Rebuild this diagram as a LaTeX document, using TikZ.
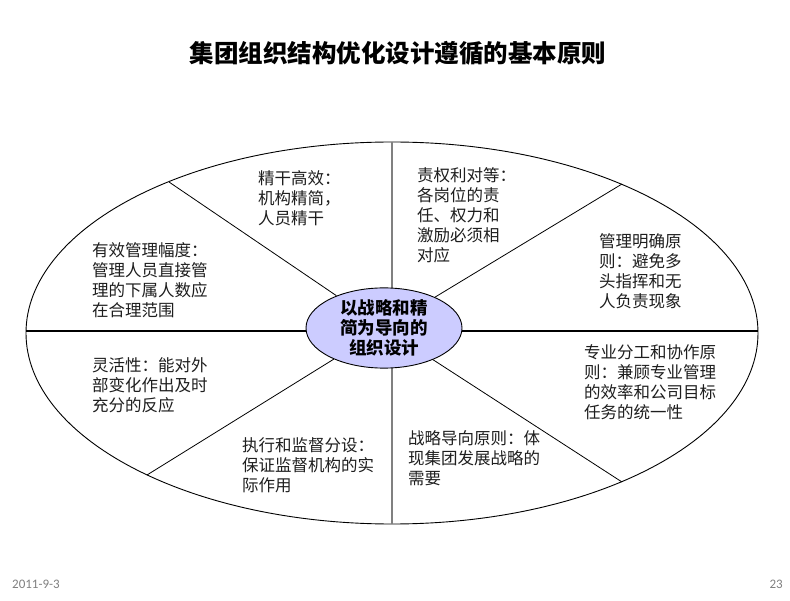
\documentclass[tikz,border=0pt]{standalone}
\usepackage{fontspec}
\setmainfont{Noto Sans CJK SC}
\newfontfamily\footfont{Carlito}
\usetikzlibrary{shapes.geometric}
\definecolor{txt}{HTML}{1E1E1E}
\definecolor{corefill}{HTML}{CCCCFF}
\definecolor{vgray}{HTML}{808080}
\definecolor{foot}{HTML}{808080}
\begin{document}
\begin{tikzpicture}[x=1pt,y=-1pt,
  body/.style={anchor=north west, inner sep=0pt, align=left, text=txt,
    font=\fontsize{16.5}{20}\selectfont},
  core/.style={ellipse, draw=black, line width=0.9pt, fill=corefill,
    minimum width=156pt, minimum height=76pt, inner sep=0pt, align=center,
    font=\fontsize{17.5}{20}\selectfont\bfseries},
  spoke/.style={draw=black, line width=0.8pt},
  hline/.style={draw=black, line width=1.3pt},
  vline/.style={draw=vgray, line width=1.8pt},
  outline/.style={draw=black, line width=0.9pt, fill=white},
  footer/.style={inner sep=0pt, text=foot, font=\footfont\fontsize{13}{15}\selectfont}]
\useasboundingbox (0,0) rectangle (790,601);
\fill[white] (0,0) rectangle (790,601);
% title
\node[inner sep=0pt, font=\fontsize{24.5}{28}\selectfont\bfseries] (title) at (398,53) {集团组织结构优化设计遵循的基本原则};
% outer ellipse
\draw[outline] (392,333) ellipse [x radius=366pt, y radius=191pt];
\coordinate (otop) at (392,142);
\coordinate (obot) at (392,524);
\coordinate (olft) at (26,331);
\coordinate (orgt) at (758,331);
\coordinate (oul) at (169,182);
\coordinate (our) at (622,184);
\coordinate (oll) at (147,475);
\coordinate (olr) at (622,482);
\draw[vline] (otop) -- (obot);
\draw[hline] (olft) -- (orgt);
\node[core] (core) at (384,328) {以战略和精\\简为导向的\\组织设计};
\draw[spoke] (core) -- (oul);
\draw[spoke] (core) -- (our);
\draw[spoke] (core) -- (oll);
\draw[spoke] (core) -- (olr);
% sector texts
\node[body] (t1) at (258,170) {精干高效：\\机构精简，\\人员精干};
\node[body] (t2) at (92,242) {有效管理幅度：\\管理人员直接管\\理的下属人数应\\在合理范围};
\node[body] (t3) at (417,167) {责权利对等：\\各岗位的责\\任、权力和\\激励必须相\\对应};
\node[body] (t4) at (599,233) {管理明确原\\则：避免多\\头指挥和无\\人负责现象};
\node[body] (t5) at (92,357) {灵活性：能对外\\部变化作出及时\\充分的反应};
\node[body] (t6) at (242,437) {执行和监督分设：\\保证监督机构的实\\际作用};
\node[body] (t7) at (584,344) {专业分工和协作原\\则：兼顾专业管理\\的效率和公司目标\\任务的统一性};
\node[body] (t8) at (408,430) {战略导向原则：体\\现集团发展战略的\\需要};
% footer
\node[footer, anchor=west] (date) at (12,584) {2011-9-3};
\node[footer, anchor=east] (page) at (783,584) {23};
\end{tikzpicture}
\end{document}
